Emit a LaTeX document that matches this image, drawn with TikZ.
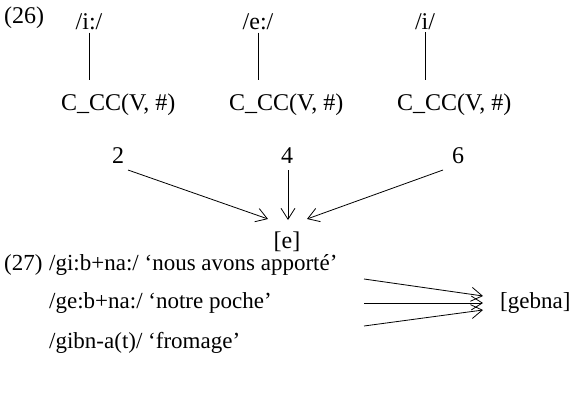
\documentclass[tikz,border=0pt]{standalone}
\usepackage{fontspec}
\setmainfont{Liberation Serif}
\usetikzlibrary{arrows.meta}
\begin{document}
\begin{tikzpicture}[x=1pt,y=-1pt,
  txt/.style={inner sep=0pt,font=\fontsize{24}{28}\selectfont},
  ltxt/.style={inner sep=0pt,font=\fontsize{23}{27}\selectfont,anchor=base west},
  lft/.style={txt,anchor=base west},
  ctr/.style={txt,anchor=base},
  link/.style={line width=0.8pt},
  arr/.style={line width=0.8pt,-{Straight Barb[length=11pt,width=14pt,line width=0.8pt]}}]
\useasboundingbox (0,0) rectangle (575,397);

% (26): three underlying vowels and their contexts
\node[lft] (ex26) at (4,23) {(26)};
\node[ctr] (vi) at (89,29) {/i:/};
\node[ctr] (ve) at (258,29) {/e:/};
\node[ctr] (vs) at (425,29) {/i/};
\node[lft] (c1) at (61,110) {C\_CC(V, \#)};
\node[lft] (c2) at (229,110) {C\_CC(V, \#)};
\node[lft] (c3) at (397,110) {C\_CC(V, \#)};
\foreach \v/\c in {vi/c1,ve/c2,vs/c3}
  \draw[link,shorten <=3pt,shorten >=13pt] (\v.south) -- (\v.south |- \c.north);

% merging into [e]
\node[ctr] (n2) at (118,163) {2};
\node[ctr] (n4) at (287,163) {4};
\node[ctr] (n6) at (458,163) {6};
\node[ctr] (e) at (287,248) {[e]};
\coordinate (s2) at (128,170);
\coordinate (s4) at (288,170);
\coordinate (s6) at (443,170);
\coordinate (t2) at (268,219);
\coordinate (t4) at (288,220);
\coordinate (t6) at (307,219);
\draw[arr] (s2) -- (t2);
\draw[arr] (s4) -- (t4);
\draw[arr] (s6) -- (t6);

% (27): three forms surfacing as [gebna]
\node[ltxt] (ex27) at (4,270) {(27)};
\node[ltxt] (r1) at (49,270) {/gi:b+na:/ ‘nous avons apporté’};
\node[ltxt] (r2) at (49,308) {/ge:b+na:/ ‘notre poche’};
\node[ltxt] (r3) at (49,348) {/gibn-a(t)/ ‘fromage’};
\node[ltxt] (g) at (500,308) {[gebna]};
\coordinate (u1) at (364,279);
\coordinate (u2) at (364,303);
\coordinate (u3) at (364,326);
\coordinate (w1) at (483,296);
\coordinate (w2) at (483,303);
\coordinate (w3) at (483,310);
\draw[arr] (u1) -- (w1);
\draw[arr] (u2) -- (w2);
\draw[arr] (u3) -- (w3);
\end{tikzpicture}
\end{document}
